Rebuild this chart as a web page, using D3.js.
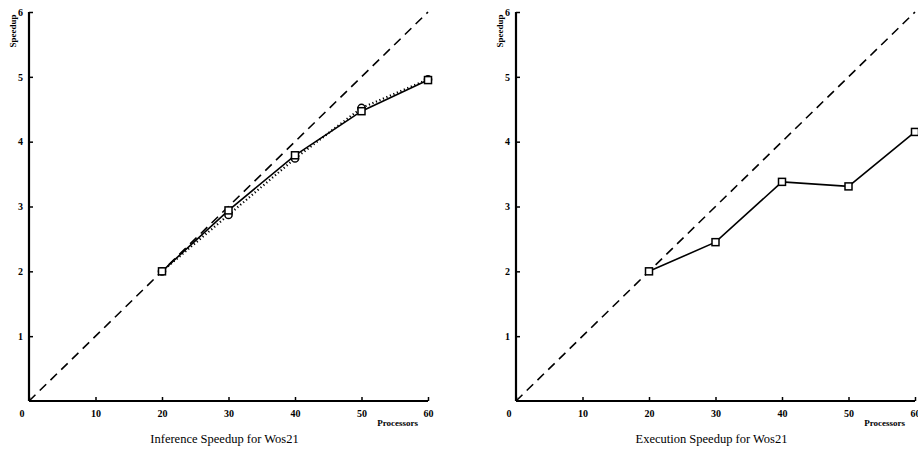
<!DOCTYPE html>
<html>
<head>
<meta charset="utf-8">
<script src="https://cdn.jsdelivr.net/npm/d3@7"></script>
<style>
  html, body { margin: 0; padding: 0; background: #fff; }
  svg { display: block; }
  text { font-family: "Liberation Serif", "Times New Roman", serif; fill: #000; }
</style>
</head>
<body>
<svg id="chart" width="918" height="452"></svg>
<script>
// Processor counts measured
const processors = [20, 30, 40, 50, 60];
// Inference speedup, two runs (square markers / circle markers)
const inferenceSquare = [2.0, 2.94, 3.79, 4.47, 4.95];
const inferenceCircle = [2.0, 2.87, 3.74, 4.52, 4.96];
// Execution speedup
const executionSquare = [2.0, 2.45, 3.38, 3.31, 4.15];
// Ideal linear speedup reference (speedup = processors / 10)
const idealX = [0, 60];
const idealY = [0, 6];
// Axis ticks
const xTicks = [0, 10, 20, 30, 40, 50, 60];
const yTicks = [1, 2, 3, 4, 5, 6];
const titles = ["Inference Speedup for Wos21", "Execution Speedup for Wos21"];

const svg = d3.select("#chart");

const panels = [
  { left: 29, right: 428, title: titles[0],
    series: [
      { values: inferenceCircle, dash: "1.2,2.6", width: 2.2, marker: "circle" },
      { values: inferenceSquare, dash: null, width: 1.6, marker: "square" }
    ] },
  { left: 516, right: 915, title: titles[1],
    series: [
      { values: executionSquare, dash: null, width: 1.6, marker: "square" }
    ] }
];

const plotTop = 12, plotBottom = 401;

panels.forEach(p => {
  const x = d3.scaleLinear().domain([0, 60]).range([p.left, p.right]);
  const y = d3.scaleLinear().domain([0, 6]).range([plotBottom, plotTop]);
  const g = svg.append("g");

  // Ideal speedup diagonal
  g.append("line")
    .attr("x1", x(idealX[0])).attr("y1", y(idealY[0]))
    .attr("x2", x(idealX[1])).attr("y2", y(idealY[1]))
    .attr("stroke", "#000").attr("stroke-width", 1.6)
    .attr("stroke-dasharray", "9,6");

  // X axis (the "0" is placed separately, left of the origin)
  const xAxis = g.append("g")
    .attr("transform", `translate(0,${plotBottom})`)
    .call(d3.axisBottom(x).tickValues(xTicks).tickSize(-4).tickPadding(9)
      .tickFormat(d => d === 0 ? "" : d3.format("d")(d)));
  xAxis.select(".domain").attr("stroke-width", 2.2).attr("d", `M${x(0)},0H${x(60)}`);
  xAxis.selectAll(".tick line").attr("stroke-width", 1.5);
  xAxis.selectAll(".tick text")
    .style("font-family", "'Liberation Serif', serif")
    .style("font-size", "10px").style("font-weight", "bold");

  // Y axis
  const yAxis = g.append("g")
    .attr("transform", `translate(${p.left},0)`)
    .call(d3.axisLeft(y).tickValues(yTicks).tickSize(-4).tickPadding(6).tickFormat(d3.format("d")));
  yAxis.select(".domain").attr("stroke-width", 2.2).attr("d", `M0,${y(0)}V${y(6)}`);
  yAxis.selectAll(".tick line").attr("stroke-width", 1.5);
  yAxis.selectAll(".tick text")
    .style("font-family", "'Liberation Serif', serif")
    .style("font-size", "10px").style("font-weight", "bold");

  // "0" at the origin
  g.append("text")
    .attr("x", x(0) - 7).attr("y", plotBottom + 16)
    .attr("text-anchor", "middle")
    .style("font-size", "10px").style("font-weight", "bold")
    .text("0");

  // Axis names
  g.append("text")
    .attr("transform", `translate(${p.left - 13},${y(6) + 19}) rotate(-90)`)
    .attr("text-anchor", "middle")
    .style("font-size", "9px").style("font-weight", "bold")
    .text("Speedup");
  g.append("text")
    .attr("x", x(60) - 10).attr("y", plotBottom + 25)
    .attr("text-anchor", "end")
    .style("font-size", "9px").style("font-weight", "bold")
    .text("Processors");

  // Panel title
  g.append("text")
    .attr("x", (x(0) + x(60)) / 2 - 4).attr("y", plotBottom + 42)
    .attr("text-anchor", "middle")
    .style("font-size", "12.5px")
    .text(p.title);

  // Measured series
  const line = d3.line().x((d, i) => x(processors[i])).y(d => y(d));
  p.series.forEach(s => {
    g.append("path")
      .datum(s.values)
      .attr("d", line)
      .attr("fill", "none")
      .attr("stroke", "#000")
      .attr("stroke-width", s.width)
      .attr("stroke-dasharray", s.dash);
  });
  p.series.forEach(s => {
    const m = g.append("g").selectAll("g").data(s.values).join("g")
      .attr("transform", (d, i) => `translate(${x(processors[i])},${y(d)})`);
    if (s.marker === "square") {
      m.append("rect").attr("x", -3.5).attr("y", -3.5).attr("width", 7).attr("height", 7)
        .attr("fill", "#fff").attr("stroke", "#000").attr("stroke-width", 1.5);
    } else {
      m.append("circle").attr("r", 3.6)
        .attr("fill", "#fff").attr("stroke", "#000").attr("stroke-width", 1.5);
    }
  });
});
</script>
</body>
</html>
